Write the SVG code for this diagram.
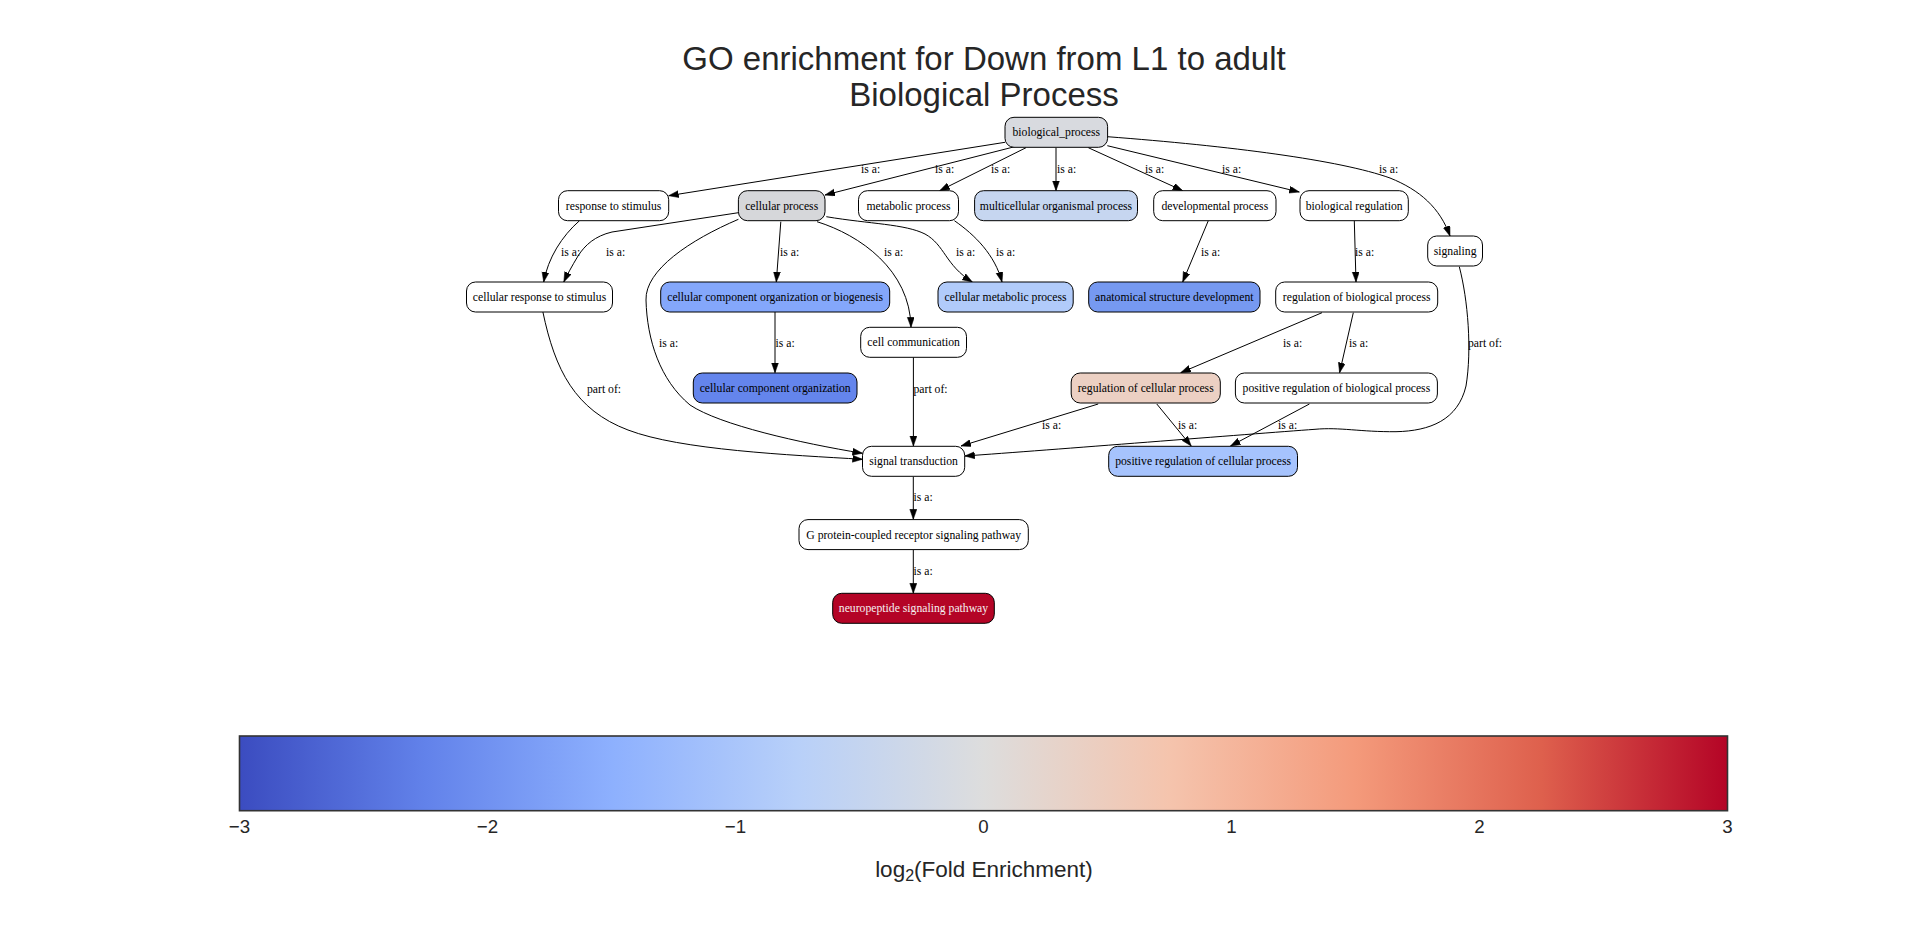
<svg xmlns="http://www.w3.org/2000/svg" width="1920" height="951" viewBox="0 0 1920 951">
<style>
.node rect{stroke:#000;stroke-width:1}
.node text{font-family:"Liberation Serif","Times New Roman",serif;font-size:11.7px;text-anchor:middle;fill:#000}
.edges path{fill:none;stroke:#000;stroke-width:1;marker-end:url(#arr)}
.edges text{font-family:"Liberation Serif","Times New Roman",serif;font-size:11.7px;fill:#000}
.title{font-family:"Liberation Sans",Arial,sans-serif;font-size:33px;text-anchor:middle;fill:#262626}
.tick{font-family:"Liberation Sans",Arial,sans-serif;font-size:18.7px;text-anchor:middle;fill:#262626}
.axl{font-family:"Liberation Sans",Arial,sans-serif;font-size:22.5px;text-anchor:middle;fill:#262626}
</style>
<defs>
<marker id="arr" markerUnits="userSpaceOnUse" markerWidth="11" markerHeight="8" refX="10" refY="3.5" orient="auto">
<path d="M0,0 L10,3.5 L0,7 z" fill="#000" stroke="#000" stroke-width="0.5"/>
</marker>
<linearGradient id="cw" x1="0" y1="0" x2="1" y2="0">
<stop offset="0" stop-color="#3b4cc0"/>
<stop offset="0.125" stop-color="#6282ea"/>
<stop offset="0.25" stop-color="#8db0fe"/>
<stop offset="0.375" stop-color="#b8d0f9"/>
<stop offset="0.5" stop-color="#dddddd"/>
<stop offset="0.625" stop-color="#f5c4ad"/>
<stop offset="0.75" stop-color="#f49a7b"/>
<stop offset="0.875" stop-color="#de604d"/>
<stop offset="1" stop-color="#b40426"/>
</linearGradient>
</defs>
<rect x="0" y="0" width="1920" height="951" fill="#fff"/>
<text class="title" x="984" y="70">GO enrichment for Down from L1 to adult</text>
<text class="title" x="984" y="105.5">Biological Process</text>

<g id="edges" class="edges">
<path d="M1005,142.3 L668.7,195.7"/><text x="861" y="173">is a:</text>
<path d="M1014.7,146.7 L825,195"/><text x="935" y="173">is a:</text>
<path d="M1026,147.7 L939.7,190.7"/><text x="991" y="173">is a:</text>
<path d="M1056,147.7 L1056,190.7"/><text x="1057" y="173">is a:</text>
<path d="M1088.3,147.7 L1182.7,190.7"/><text x="1145" y="173">is a:</text>
<path d="M1107.3,145.7 L1299.3,192"/><text x="1222" y="173">is a:</text>
<path d="M1107.3,136.7 C1230,146 1340,160 1390,178 C1420,190 1440,208 1450,236"/><text x="1379" y="173">is a:</text>
<path d="M579.5,220.7 C562,236 548,258 543.7,282"/><text x="561" y="255.5">is a:</text>
<path d="M738.4,212.7 L612,232 C595,236 585,245 578,256 C572,266 567,275 563.8,282"/><text x="606" y="255.5">is a:</text>
<path d="M780.8,221.7 L776.3,282"/><text x="780" y="255.5">is a:</text>
<path d="M817,221.7 C860,235 910,270 911,327.3"/><text x="884" y="255.5">is a:</text>
<path d="M826.3,216.7 C870,224 905,224 925,234 C945,245 945,265 972.3,282"/><text x="956" y="255.5">is a:</text>
<path d="M954.4,220.7 C975,235 995,255 1002,282"/><text x="996" y="255.5">is a:</text>
<path d="M1208.3,220.7 L1182.7,282"/><text x="1201" y="255.5">is a:</text>
<path d="M1354.3,220.7 L1356,282"/><text x="1355" y="255.5">is a:</text>
<path d="M738.4,219.3 C690,240 645,270 646,300 C647,340 660,380 690,405 C720,425 800,443 862.5,453.3"/><text x="659" y="347">is a:</text>
<path d="M775,312 L775,372.7"/><text x="775.5" y="347">is a:</text>
<path d="M542.9,312 C555,370 575,410 628,430 C680,450 790,455 862.5,459.3"/><text x="587" y="393">part of:</text>
<path d="M913.4,357.3 L913.4,446"/><text x="913.5" y="393">part of:</text>
<path d="M1322,312.7 L1180.7,372.7"/><text x="1283" y="346.7">is a:</text>
<path d="M1353.3,312.7 L1339.6,372.7"/><text x="1349" y="346.7">is a:</text>
<path d="M1459.3,266.7 C1468,300 1472,350 1466,386 C1458,420 1430,431 1396,431.7 C1360,432 1340,427 1315,429.3 C1250,434 1050,450 964.7,456"/><text x="1468" y="346.7">part of:</text>
<path d="M1098.2,404 L961,446"/><text x="1042" y="429">is a:</text>
<path d="M1156.8,404 L1191.2,446"/><text x="1178" y="429">is a:</text>
<path d="M1309.4,404 L1230.5,446"/><text x="1278" y="429">is a:</text>
<path d="M913.3,476.7 L913.3,519.3"/><text x="913.5" y="501">is a:</text>
<path d="M913.3,550 L913.3,593.3"/><text x="913.5" y="575">is a:</text>
</g>

<g id="n_biological_process" class="node"><rect x="1005" y="117.3" width="102.6" height="30" rx="9" fill="#d8dadf"/><text x="1056.3" y="136.3">biological_process</text></g>
<g id="n_response_to_stimulus" class="node"><rect x="558.5" y="190.7" width="110.2" height="30" rx="9" fill="#fff"/><text x="613.6" y="209.7">response to stimulus</text></g>
<g id="n_cellular_process" class="node"><rect x="738.4" y="190.7" width="86.6" height="30" rx="9" fill="#d6d7da"/><text x="781.7" y="209.7">cellular process</text></g>
<g id="n_metabolic_process" class="node"><rect x="858.5" y="190.7" width="100" height="30" rx="9" fill="#fff"/><text x="908.5" y="209.7">metabolic process</text></g>
<g id="n_multicellular_organismal_process" class="node"><rect x="974.6" y="190.7" width="162.9" height="30" rx="9" fill="#c6d6f0"/><text x="1056" y="209.7">multicellular organismal process</text></g>
<g id="n_developmental_process" class="node"><rect x="1153.7" y="190.7" width="122.3" height="30" rx="9" fill="#fff"/><text x="1214.8" y="209.7">developmental process</text></g>
<g id="n_biological_regulation" class="node"><rect x="1300" y="190.7" width="108.3" height="30" rx="9" fill="#fff"/><text x="1354.2" y="209.7">biological regulation</text></g>
<g id="n_signaling" class="node"><rect x="1427.7" y="236" width="54.8" height="30" rx="9" fill="#fff"/><text x="1455.1" y="255">signaling</text></g>
<g id="n_cellular_response_to_stimulus" class="node"><rect x="466.5" y="282" width="146" height="30" rx="9" fill="#fff"/><text x="539.5" y="301">cellular response to stimulus</text></g>
<g id="n_ccoob" class="node"><rect x="660.7" y="282" width="229" height="30" rx="9" fill="#84a7fb"/><text x="775.2" y="301">cellular component organization or biogenesis</text></g>
<g id="n_cellular_metabolic_process" class="node"><rect x="938" y="282" width="135.2" height="30" rx="9" fill="#b1cbfa"/><text x="1005.6" y="301">cellular metabolic process</text></g>
<g id="n_anatomical_structure_development" class="node"><rect x="1088.7" y="282" width="171.3" height="30" rx="9" fill="#7699f1"/><text x="1174.3" y="301">anatomical structure development</text></g>
<g id="n_regulation_of_biological_process" class="node"><rect x="1275.7" y="282" width="162" height="30" rx="9" fill="#fff"/><text x="1356.7" y="301">regulation of biological process</text></g>
<g id="n_cell_communication" class="node"><rect x="860.7" y="327.3" width="105.8" height="30" rx="9" fill="#fff"/><text x="913.6" y="346.3">cell communication</text></g>
<g id="n_cellular_component_organization" class="node"><rect x="693.3" y="373" width="163.7" height="30" rx="9" fill="#6485ec"/><text x="775.2" y="392">cellular component organization</text></g>
<g id="n_regulation_of_cellular_process" class="node"><rect x="1071.2" y="373" width="149.1" height="30" rx="9" fill="#ecd0c3"/><text x="1145.7" y="392">regulation of cellular process</text></g>
<g id="n_positive_regulation_of_biological_process" class="node"><rect x="1235.4" y="373" width="202" height="30" rx="9" fill="#fff"/><text x="1336.4" y="392">positive regulation of biological process</text></g>
<g id="n_signal_transduction" class="node"><rect x="862.5" y="446.3" width="102.2" height="30" rx="9" fill="#fff"/><text x="913.6" y="465.3">signal transduction</text></g>
<g id="n_positive_regulation_of_cellular_process" class="node"><rect x="1108.7" y="446.3" width="188.8" height="30" rx="9" fill="#a6c3fd"/><text x="1203.1" y="465.3">positive regulation of cellular process</text></g>
<g id="n_gpcr" class="node"><rect x="799" y="519.6" width="229.3" height="30" rx="9" fill="#fff"/><text x="913.7" y="538.6">G protein-coupled receptor signaling pathway</text></g>
<g id="n_neuropeptide" class="node"><rect x="832.7" y="593.3" width="161.6" height="30" rx="9" fill="#b40426"/><text x="913.5" y="612.3" style="fill:#f4f0f0">neuropeptide signaling pathway</text></g>

<g id="colorbar">
<rect x="239.5" y="736" width="1488" height="74.7" fill="url(#cw)" stroke="#333" stroke-width="1.6"/>
<text class="tick" x="239.5" y="833">−3</text>
<text class="tick" x="487.5" y="833">−2</text>
<text class="tick" x="735.5" y="833">−1</text>
<text class="tick" x="983.5" y="833">0</text>
<text class="tick" x="1231.5" y="833">1</text>
<text class="tick" x="1479.5" y="833">2</text>
<text class="tick" x="1727.5" y="833">3</text>
<text class="axl" x="984" y="877">log<tspan font-size="16px" dy="4">2</tspan><tspan dy="-4">(Fold Enrichment)</tspan></text>
</g>
</svg>
